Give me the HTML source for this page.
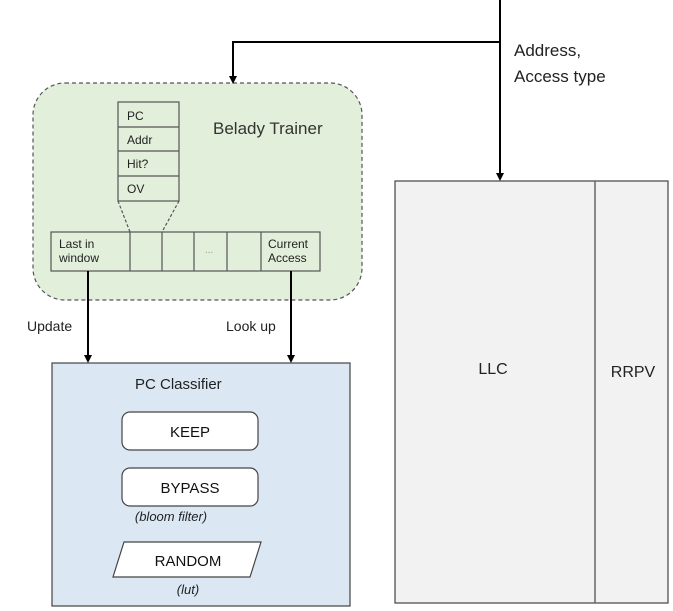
<!DOCTYPE html>
<html><head><meta charset="utf-8"><style>
html,body{margin:0;padding:0;background:#fff;}
svg{display:block;font-family:"Liberation Sans",Arial,sans-serif;}
</style></head><body>
<svg width="673" height="611" viewBox="0 0 673 611" xmlns="http://www.w3.org/2000/svg">
<!-- belady trainer -->
<rect x="33" y="83" width="329" height="217" rx="32" fill="#e2efda" stroke="#555" stroke-width="1.2" stroke-dasharray="4,3"/>
<text x="213" y="134" font-size="17" fill="#333">Belady Trainer</text>
<g stroke="#555" stroke-width="1.2" fill="#e2efda">
<rect x="118" y="102" width="61" height="99"/>
<line x1="118" y1="127" x2="179" y2="127"/><line x1="118" y1="151" x2="179" y2="151"/><line x1="118" y1="176" x2="179" y2="176"/>
<rect x="51" y="232" width="269" height="39"/>
<line x1="130" y1="232" x2="130" y2="271"/><line x1="162" y1="232" x2="162" y2="271"/><line x1="194" y1="232" x2="194" y2="271"/><line x1="227" y1="232" x2="227" y2="271"/><line x1="261" y1="232" x2="261" y2="271"/>
<line x1="118" y1="201" x2="130" y2="232" stroke-dasharray="3,2"/><line x1="179" y1="201" x2="162" y2="232" stroke-dasharray="3,2"/>
</g>
<g font-size="12" fill="#222">
<text x="127" y="120">PC</text><text x="127" y="144">Addr</text><text x="127" y="168">Hit?</text><text x="127" y="193">OV</text>
<text x="59" y="248">Last in</text><text x="59" y="262">window</text>
<text x="268" y="248">Current</text><text x="268" y="262">Access</text>
<text x="205" y="253" fill="#999" font-size="10">...</text>
</g>
<!-- connectors -->
<g stroke="#000" stroke-width="2" fill="none">
<line x1="500" y1="0" x2="500" y2="174"/>
<polyline points="500,42 233,42 233,78"/>
<line x1="88" y1="271" x2="88" y2="356"/>
<line x1="291" y1="271" x2="291" y2="356"/>
</g>
<g fill="#000">
<polygon points="496,173 504,173 500,181"/>
<polygon points="229,76 237,76 233,84"/>
<polygon points="84,355 92,355 88,363"/>
<polygon points="287,355 295,355 291,363"/>
</g>
<text x="514" y="56" font-size="17" fill="#222">Address,</text>
<text x="514" y="82" font-size="17" fill="#222">Access type</text>
<text x="27" y="331" font-size="14" fill="#222">Update</text>
<text x="226" y="331" font-size="14" fill="#222">Look up</text>
<!-- classifier -->
<rect x="52" y="363" width="298" height="243" fill="#dbe7f3" stroke="#444" stroke-width="1.2"/>
<text x="135" y="389" font-size="15" fill="#222">PC Classifier</text>
<rect x="122" y="412" width="136" height="38" rx="8" fill="#fff" stroke="#444" stroke-width="1.2"/>
<text x="190" y="437" font-size="15" text-anchor="middle" fill="#111">KEEP</text>
<rect x="122" y="468" width="136" height="38" rx="8" fill="#fff" stroke="#444" stroke-width="1.2"/>
<text x="190" y="493" font-size="15" text-anchor="middle" fill="#111">BYPASS</text>
<text x="171" y="521" font-size="13" font-style="italic" text-anchor="middle" fill="#222">(bloom filter)</text>
<polygon points="124,542 261,542 250,577 113,577" fill="#fff" stroke="#444" stroke-width="1.2"/>
<text x="188" y="566" font-size="15" text-anchor="middle" fill="#111">RANDOM</text>
<text x="188" y="594" font-size="13" font-style="italic" text-anchor="middle" fill="#222">(lut)</text>
<!-- LLC -->
<rect x="395" y="181" width="273" height="422" fill="#f2f2f2" stroke="#444" stroke-width="1.2"/>
<line x1="595" y1="181" x2="595" y2="603" stroke="#666" stroke-width="1.5"/>
<text x="493" y="374" font-size="16" text-anchor="middle" fill="#222">LLC</text>
<text x="633" y="377" font-size="16" text-anchor="middle" fill="#222">RRPV</text>
</svg>
</body></html>
